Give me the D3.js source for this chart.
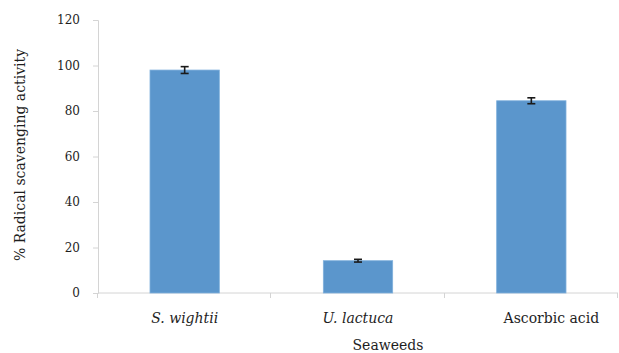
<!DOCTYPE html>
<html>
<head>
<meta charset="utf-8">
<script src="https://cdn.jsdelivr.net/npm/d3@7/dist/d3.min.js"></script>
<style>
  html, body { margin: 0; padding: 0; background: #fff; }
  svg text { font-family: "DejaVu Serif", serif; fill: #1e1e1e; }
</style>
</head>
<body>
<svg id="chart" width="619" height="353"></svg>
<script>
// Radical scavenging activity (%) per sample, with standard error
const categories = ["S. wightii", "U. lactuca", "Ascorbic acid"];
const italicNames = [true, true, false];
const activity = [98.0, 14.2, 84.5];
const errors = [1.5, 0.6, 1.3];
const yTicks = [0, 20, 40, 60, 80, 100, 120];

const svg = d3.select("#chart");
const margin = { left: 98, right: 1, top: 20, bottom: 60 };
const W = 619, H = 353;

const x = d3.scaleBand()
  .domain(categories)
  .range([margin.left, W - margin.right])
  .paddingInner(0.6)
  .paddingOuter(0.3);

const y = d3.scaleLinear()
  .domain([0, 120])
  .range([H - margin.bottom, margin.top]);

const axisColor = "#d4d4d4";

// Y axis
const yAxis = svg.append("g")
  .attr("transform", `translate(${margin.left},0)`)
  .call(d3.axisLeft(y).tickValues(yTicks).tickSize(5).tickPadding(13));
yAxis.select(".domain").attr("stroke", axisColor);
yAxis.selectAll(".tick line").attr("stroke", axisColor);
yAxis.selectAll(".tick text")
  .style("font-family", "'DejaVu Serif', serif")
  .style("font-size", "12px")
  .attr("fill", "#1e1e1e");

// X axis: boundary ticks between categories
const step = x.step();
const boundaries = d3.range(categories.length + 1).map(i => x.range()[0] + i * step);
const xBase = y(0);
svg.append("line")
  .attr("x1", margin.left).attr("x2", W - margin.right)
  .attr("y1", xBase).attr("y2", xBase)
  .attr("stroke", axisColor);
svg.selectAll("line.xtick")
  .data(boundaries)
  .join("line")
  .attr("class", "xtick")
  .attr("x1", d => Math.round(d) - 0.5).attr("x2", d => Math.round(d) - 0.5)
  .attr("y1", xBase).attr("y2", xBase + 5)
  .attr("stroke", axisColor);

// Bars
svg.selectAll("rect.bar")
  .data(categories)
  .join("rect")
  .attr("class", "bar")
  .attr("x", d => x(d))
  .attr("width", x.bandwidth())
  .attr("y", (d, i) => y(activity[i]))
  .attr("height", (d, i) => y(0) - y(activity[i]))
  .attr("fill", "#5b96cc")
  .attr("stroke", "#7fb0dc")
  .attr("stroke-width", 0.8);

// Error bars
const eb = svg.selectAll("g.err")
  .data(categories)
  .join("g")
  .attr("class", "err")
  .attr("stroke", "#1a1a1a")
  .attr("stroke-width", 1.6);
eb.append("line")
  .attr("x1", d => x(d) + x.bandwidth() / 2)
  .attr("x2", d => x(d) + x.bandwidth() / 2)
  .attr("y1", (d, i) => y(activity[i] + errors[i]))
  .attr("y2", (d, i) => y(activity[i] - errors[i]));
eb.append("line")
  .attr("x1", d => x(d) + x.bandwidth() / 2 - 4)
  .attr("x2", d => x(d) + x.bandwidth() / 2 + 4)
  .attr("y1", (d, i) => y(activity[i] + errors[i]))
  .attr("y2", (d, i) => y(activity[i] + errors[i]));
eb.append("line")
  .attr("x1", d => x(d) + x.bandwidth() / 2 - 4)
  .attr("x2", d => x(d) + x.bandwidth() / 2 + 4)
  .attr("y1", (d, i) => y(activity[i] - errors[i]))
  .attr("y2", (d, i) => y(activity[i] - errors[i]));

// Category labels (the last one sits a little right of its bar)
svg.selectAll("text.cat")
  .data(categories)
  .join("text")
  .attr("class", "cat")
  .attr("x", (d, i) => x(d) + x.bandwidth() / 2 + (i === 2 ? 20 : 0))
  .attr("y", 323)
  .attr("text-anchor", "middle")
  .style("font-size", "14px")
  .style("font-style", (d, i) => italicNames[i] ? "italic" : "normal")
  .text(d => d);

// Axis titles
svg.append("text")
  .attr("x", 388)
  .attr("y", 350)
  .attr("text-anchor", "middle")
  .style("font-size", "14px")
  .text("Seaweeds");

svg.append("text")
  .attr("transform", "translate(25,155) rotate(-90)")
  .attr("text-anchor", "middle")
  .style("font-size", "14px")
  .text("% Radical scavenging activity");
</script>
</body>
</html>
